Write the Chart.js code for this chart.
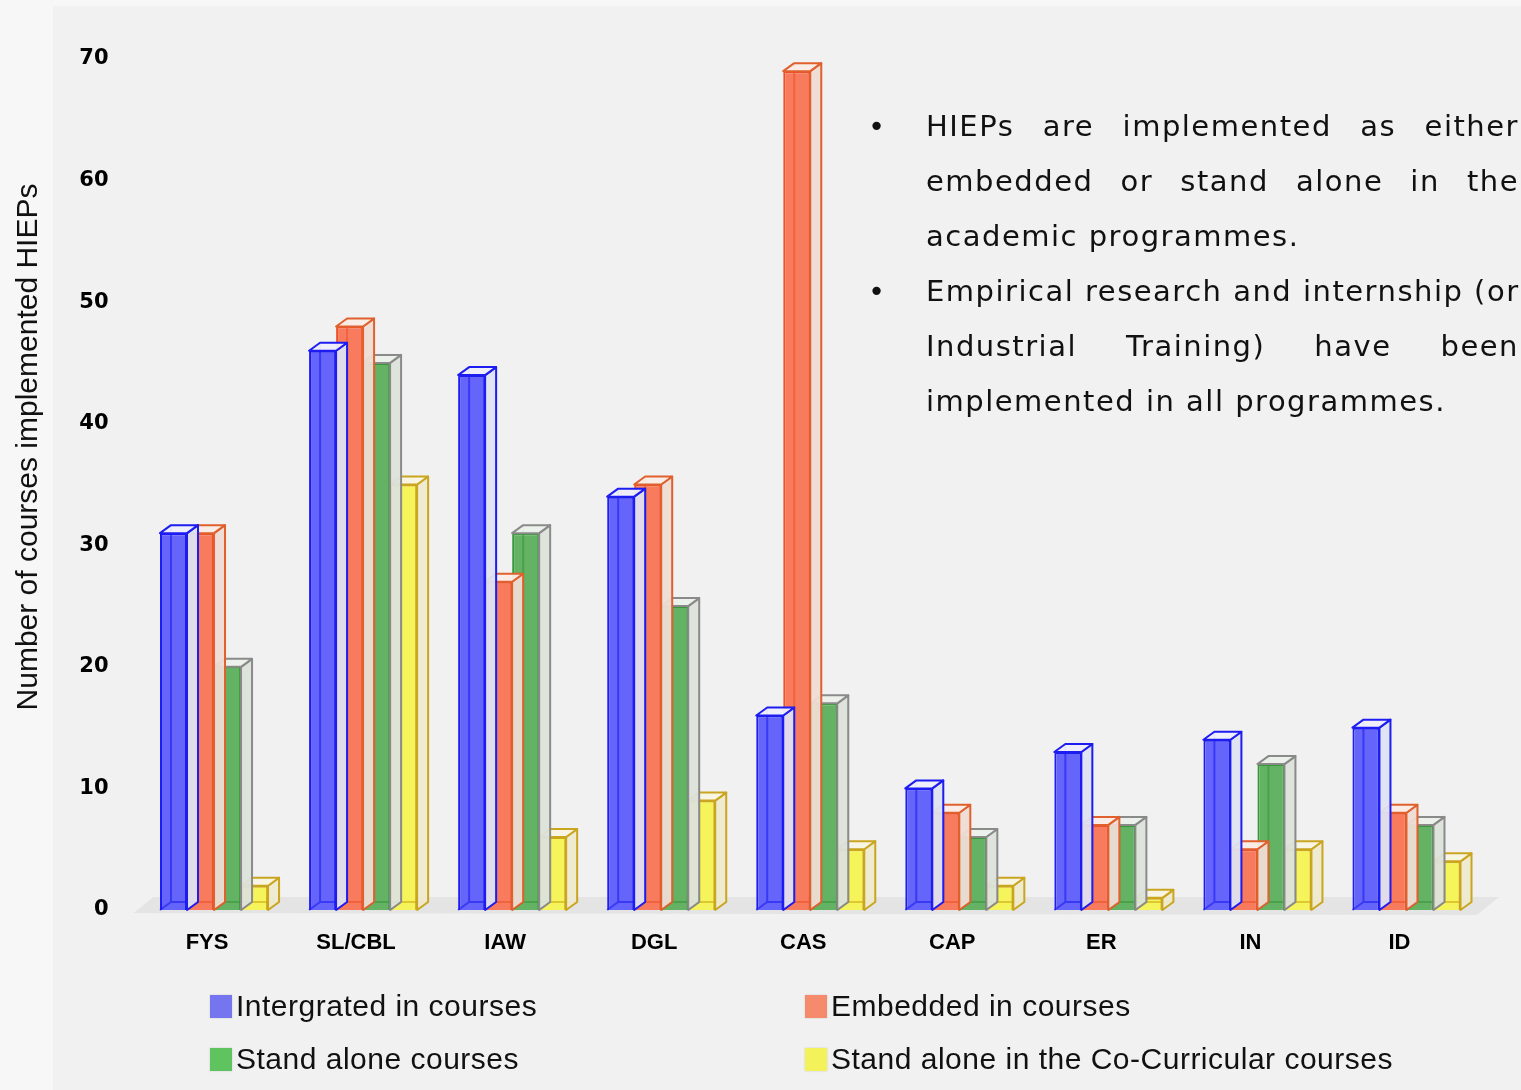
<!DOCTYPE html>
<html>
<head>
<meta charset="utf-8">
<script src="https://cdn.jsdelivr.net/npm/chart.js@4"></script>
<style>
  html, body { margin: 0; padding: 0; background: #f7f7f7; }
  #wrap { position: relative; width: 1521px; height: 1090px; overflow: hidden; }
  #panel { position: absolute; left: 53px; top: 6px; right: 0; bottom: 0; background: #f1f1f1; }
  #chart { position: absolute; left: 0; top: 0; }
  #ytitle { position: absolute; left: 27px; top: 447px; width: 700px; margin-left: -350px; margin-top: -18px;
            height: 36px; line-height: 36px; text-align: center; transform: rotate(-90deg);
            font-family: "Liberation Sans", Arial, sans-serif; font-size: 30px; color: #111; white-space: nowrap; }
  #notes { position: absolute; left: 866px; top: 99px; width: 653px;
           font-family: "DejaVu Sans", sans-serif; font-size: 29px; letter-spacing: 1.5px; line-height: 55px; color: #111; }
  #notes .item { position: relative; padding-left: 60px; }
  #notes .item::before { content: "\2022"; position: absolute; left: 2px; top: 0; }
  #notes .ln { display: block; text-align: justify; text-align-last: justify; white-space: nowrap; }
  #notes .ln.last { text-align-last: left; }
  #legend { position: absolute; left: 0; top: 0; font-family: "Liberation Sans", Arial, sans-serif;
            font-size: 30px; letter-spacing: 0.5px; color: #111; }
  #legend .it { position: absolute; white-space: nowrap; display: flex; align-items: center; }
  #legend .sw { width: 22px; height: 23px; margin-right: 4px; box-shadow: 0 0 2px rgba(0,0,0,0.15); }
</style>
</head>
<body>
<div id="wrap">
  <div id="panel"></div>
  <canvas id="chart" width="1521" height="1090"></canvas>
  <div id="ytitle">Number of courses implemented HIEPs</div>
  <div id="notes">
    <div class="item">
      <span class="ln">HIEPs are implemented as either</span>
      <span class="ln">embedded or stand alone in the</span>
      <span class="ln last">academic programmes.</span>
    </div>
    <div class="item">
      <span class="ln">Empirical research and internship (or</span>
      <span class="ln">Industrial Training) have been</span>
      <span class="ln last">implemented in all programmes.</span>
    </div>
  </div>
  <div id="legend"></div>
</div>
<script>
// categories and series
const categories = ['FYS', 'SL/CBL', 'IAW', 'DGL', 'CAS', 'CAP', 'ER', 'IN', 'ID'];
const seriesNames = ['Intergrated in courses', 'Embedded in courses', 'Stand alone courses', 'Stand alone in the Co-Curricular courses'];
const integrated = [31, 46, 44, 34, 16, 10, 13, 14, 15];
const embedded   = [31, 48, 27, 35, 69, 8, 7, 5, 8];
const standAlone = [20, 45, 31, 25, 17, 6, 7, 12, 7];
const coCurricular = [2, 35, 6, 9, 5, 2, 1, 5, 4];
const yTicks = [0, 10, 20, 30, 40, 50, 60, 70];

// front / edge / side / top colours per series
const styles = [
  { fill: '#6565fb', edge: '#1d1df2', sideEdge: '#1d1df2', side: 'rgba(222,225,240,0.95)', top: 'rgba(238,238,252,0.95)', key: '#7575f0' },
  { fill: '#f87b5e', edge: '#ee5128', sideEdge: '#e0602e', side: 'rgba(238,220,212,0.95)', top: 'rgba(250,236,230,0.95)', key: '#f58a6c' },
  { fill: '#64b264', edge: '#379837', sideEdge: '#8a8a8a', side: 'rgba(220,226,218,0.95)', top: 'rgba(236,240,234,0.95)', key: '#5fc35f' },
  { fill: '#f6f45b', edge: '#cfa812', sideEdge: '#c9a520', side: 'rgba(238,234,206,0.95)', top: 'rgba(248,246,226,0.95)', key: '#f4f25a' }
];
const depth = { x: 11, y: -8 };

// gray floor + box faces for each bar
const bar3d = {
  id: 'bar3d',
  beforeDatasetsDraw(chart) {
    const { ctx, chartArea } = chart;
    const b = chartArea.bottom;
    ctx.save();
    ctx.fillStyle = '#e4e4e4';
    ctx.beginPath();
    ctx.moveTo(chartArea.left - 6, b + 3);
    ctx.lineTo(chartArea.left + 14, b - 13);
    ctx.lineTo(chartArea.right + 18, b - 13);
    ctx.lineTo(chartArea.right - 4, b + 5);
    ctx.closePath();
    ctx.fill();
    ctx.restore();
  },
  afterDatasetDraw(chart, args) {
    const { ctx } = chart;
    const st = styles[args.index];
    ctx.save();
    ctx.lineWidth = 2;
    ctx.lineJoin = 'round';
    args.meta.data.forEach(bar => {
      const { x, y, base, width } = bar.getProps(['x', 'y', 'base', 'width'], true);
      const l = x - width / 2, r = x + width / 2;
      const dx = depth.x, dy = depth.y;
      // back edges seen through the front
      ctx.strokeStyle = st.edge;
      ctx.globalAlpha = 0.6;
      ctx.beginPath();
      ctx.moveTo(l + dx, y + dy);
      ctx.lineTo(l + dx, base + dy);
      ctx.lineTo(r + dx, base + dy);
      ctx.moveTo(l, base);
      ctx.lineTo(l + dx, base + dy);
      ctx.stroke();
      ctx.globalAlpha = 1;
      // right side
      ctx.fillStyle = st.side;
      ctx.strokeStyle = st.sideEdge;
      ctx.beginPath();
      ctx.moveTo(r, y);
      ctx.lineTo(r + dx, y + dy);
      ctx.lineTo(r + dx, base + dy);
      ctx.lineTo(r, base);
      ctx.closePath();
      ctx.fill();
      ctx.stroke();
      // top
      ctx.fillStyle = st.top;
      ctx.strokeStyle = st.sideEdge;
      ctx.beginPath();
      ctx.moveTo(l, y);
      ctx.lineTo(l + dx, y + dy);
      ctx.lineTo(r + dx, y + dy);
      ctx.lineTo(r, y);
      ctx.closePath();
      ctx.fill();
      ctx.stroke();
    });
    ctx.restore();
  }
};

const seriesData = [integrated, embedded, standAlone, coCurricular];

new Chart(document.getElementById('chart'), {
  type: 'bar',
  data: {
    labels: categories,
    datasets: seriesData.map((d, i) => ({
      label: seriesNames[i],
      data: d,
      backgroundColor: styles[i].fill,
      borderColor: styles[i].edge,
      borderWidth: 2,
      categoryPercentage: 0.725,
      barPercentage: 1.0
    }))
  },
  options: {
    responsive: false,
    animation: false,
    events: [],
    layout: { padding: { left: 0, top: 59, right: 40, bottom: 120 } },
    plugins: { legend: { display: false }, tooltip: { enabled: false } },
    scales: {
      x: {
        grid: { display: false, drawTicks: false },
        border: { display: false },
        ticks: {
          color: '#000',
          padding: 20,
          labelOffset: -7,
          font: { family: 'Liberation Sans, Arial, sans-serif', size: 22, weight: 'bold' }
        },
        afterFit: s => { s.height = 60; }
      },
      y: {
        min: 0,
        max: 70,
        grid: { display: false, drawTicks: false },
        border: { display: false },
        afterBuildTicks: s => { s.ticks = yTicks.map(v => ({ value: v })); },
        ticks: {
          color: '#000',
          padding: 31,
          font: { family: 'DejaVu Sans, sans-serif', size: 21, weight: 'bold' }
        },
        afterFit: s => { s.width = 139.5; }
      }
    }
  },
  plugins: [bar3d]
});

// legend in two columns
const legendPos = [[210, 994], [805, 994], [210, 1047], [805, 1047]];
const legend = document.getElementById('legend');
seriesNames.forEach((name, i) => {
  const it = document.createElement('div');
  it.className = 'it';
  it.style.left = legendPos[i][0] + 'px';
  it.style.top = (legendPos[i][1] - 5) + 'px';
  const sw = document.createElement('span');
  sw.className = 'sw';
  sw.style.background = styles[i].key;
  const tx = document.createElement('span');
  tx.textContent = name;
  it.appendChild(sw);
  it.appendChild(tx);
  legend.appendChild(it);
});
</script>
</body>
</html>
